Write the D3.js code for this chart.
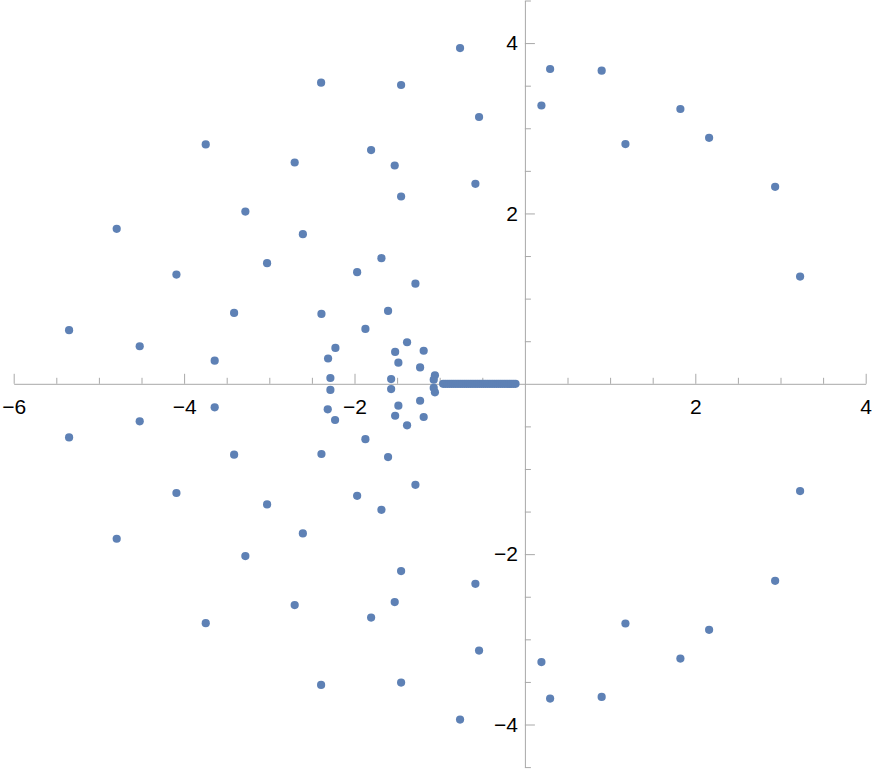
<!DOCTYPE html>
<html>
<head>
<meta charset="utf-8">
<script src="https://cdn.jsdelivr.net/npm/d3@7"></script>
<style>
  html, body { margin: 0; padding: 0; background: #ffffff; }
  svg { display: block; }
</style>
</head>
<body>
<svg id="chart" width="872" height="770"></svg>
<script>
// ---- data ----
const xMajorTicks = [-6, -4, -2, 2, 4];
const xMinorTicks = [-5.5, -5, -4.5, -3.5, -3, -2.5, -1.5, -1, -0.5, 0.5, 1, 1.5, 2.5, 3, 3.5];
const yMajorTicks = [-4, -2, 2, 4];
const yMinorTicks = [-4.5, -3.5, -3, -2.5, -1.5, -1, -0.5, 0.5, 1, 1.5, 2.5, 3, 3.5, 4.5];

// points in the upper half-plane
const upperRe = [-0.761, 0.296, 0.901, 0.194, 1.825, 2.162, 1.180, 2.937, 3.230,
  -2.392, -1.453, -0.538, -3.746, -1.805, -2.702, -1.528, -0.581, -1.453,
  -3.281, -4.791, -2.606, -3.026, -1.684, -4.090, -1.969, -1.285, -5.350,
  -3.413, -2.388, -1.606, -1.872, -4.521, -3.641, -1.383, -2.224, -2.310,
  -1.523, -1.188, -1.485, -1.230, -2.283, -1.570, -1.056, -1.070];
const upperIm = [3.942, 3.696, 3.676, 3.267, 3.226, 2.888, 2.814, 2.313, 1.259,
  3.535, 3.508, 3.132, 2.810, 2.744, 2.598, 2.563, 2.348, 2.199,
  2.022, 1.819, 1.757, 1.416, 1.475, 1.282, 1.310, 1.176, 0.629,
  0.832, 0.820, 0.855, 0.644, 0.441, 0.271, 0.488, 0.421, 0.297,
  0.374, 0.388, 0.248, 0.192, 0.068, 0.056, 0.100, 0.048];

// points in the lower half-plane
const lowerRe = [-0.761, 0.296, 0.901, 0.194, 1.825, 2.162, 1.180, 2.937, 3.230,
  -2.392, -1.453, -0.538, -3.746, -1.805, -2.702, -1.528, -0.581, -1.453,
  -3.281, -4.791, -2.606, -3.026, -1.684, -4.090, -1.969, -1.285, -5.350,
  -3.413, -2.388, -1.606, -1.872, -4.521, -3.641, -1.383, -2.228, -2.314,
  -1.523, -1.188, -1.485, -1.230, -2.283, -1.570, -1.056, -1.070];
const lowerIm = [-3.942, -3.696, -3.676, -3.267, -3.226, -2.888, -2.814, -2.313, -1.259,
  -3.535, -3.508, -3.132, -2.810, -2.744, -2.598, -2.563, -2.348, -2.199,
  -2.022, -1.819, -1.757, -1.416, -1.479, -1.282, -1.315, -1.186, -0.629,
  -0.832, -0.824, -0.860, -0.650, -0.441, -0.276, -0.488, -0.425, -0.300,
  -0.375, -0.390, -0.257, -0.199, -0.072, -0.062, -0.100, -0.048];

// points lying on the real axis
const realAxisRe = [-0.96, -0.935, -0.91, -0.885, -0.86, -0.835, -0.81, -0.785, -0.76,
  -0.735, -0.71, -0.685, -0.66, -0.635, -0.61, -0.585, -0.56, -0.535, -0.51,
  -0.485, -0.46, -0.435, -0.41, -0.385, -0.36, -0.335, -0.31, -0.285, -0.26,
  -0.235, -0.21, -0.185, -0.16, -0.135, -0.11];

// ---- drawing ----
const svg = d3.select("#chart");
const x = d3.scaleLinear().domain([-6, 4]).range([13.7, 865.7]);
const y = d3.scaleLinear().domain([-4.5, 4.5]).range([767.1, 0.5]);

const axisColor = "#a8a8a8";
const fontFamily = "'Liberation Sans', Arial, Helvetica, sans-serif";
const minus = s => String(s).replace("-", "\u2212");

// x axis
const gx = svg.append("g").attr("transform", `translate(0,${y(0)})`);
gx.call(d3.axisBottom(x).tickValues(xMajorTicks).tickSizeInner(-10).tickSizeOuter(0)
  .tickPadding(15).tickFormat(minus));
gx.append("g").call(d3.axisBottom(x).tickValues(xMinorTicks).tickSizeInner(-6).tickSizeOuter(0)
  .tickFormat(""))
  .call(g => g.select(".domain").remove());

// y axis
const gy = svg.append("g").attr("transform", `translate(${x(0)},0)`);
gy.call(d3.axisLeft(y).tickValues(yMajorTicks).tickSizeInner(-10).tickSizeOuter(0)
  .tickPadding(7).tickFormat(minus));
gy.append("g").call(d3.axisLeft(y).tickValues(yMinorTicks).tickSizeInner(-6).tickSizeOuter(0)
  .tickFormat(""))
  .call(g => g.select(".domain").remove());

svg.selectAll(".domain").attr("stroke", axisColor).attr("stroke-width", 1);
svg.selectAll(".tick line").attr("stroke", axisColor).attr("stroke-width", 1);
svg.selectAll(".tick text").attr("fill", "#000").style("font-family", fontFamily)
  .style("font-size", "21px");

// points
const pts = [];
upperRe.forEach((r, i) => pts.push([r, upperIm[i]]));
lowerRe.forEach((r, i) => pts.push([r, lowerIm[i]]));
realAxisRe.forEach(r => pts.push([r, 0]));

svg.append("g").selectAll("circle").data(pts).join("circle")
  .attr("cx", d => x(d[0]))
  .attr("cy", d => y(d[1]))
  .attr("r", 4.1)
  .attr("fill", "#5E81B5");
</script>
</body>
</html>
